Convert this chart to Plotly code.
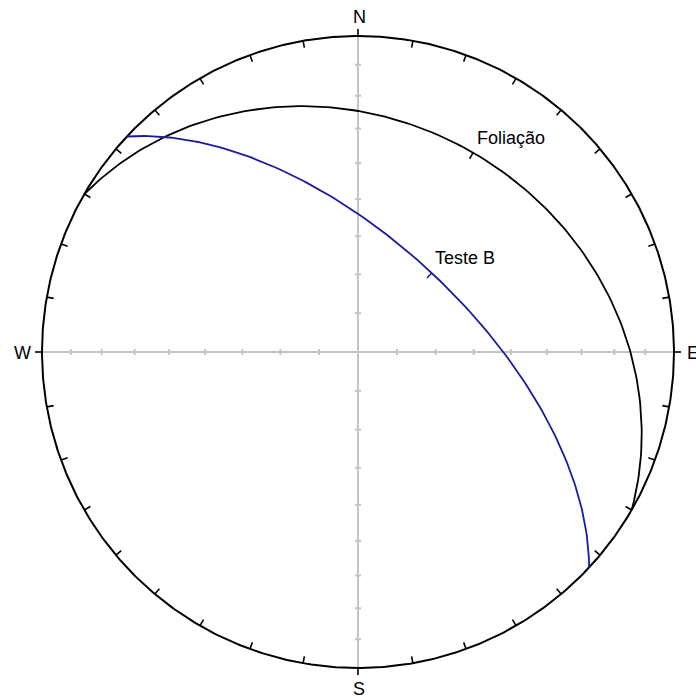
import numpy as np
import plotly.graph_objects as go

# ---- data ----
plane_names = ["Foliação", "Teste B"]
plane_dipdirs = [30, 43]       # degrees
plane_dips = [28, 62]          # degrees
plane_colors = ["#000000", "#1c1c9c"]
cardinal_labels = ["N", "E", "S", "W"]
tick_azimuths = list(range(0, 360, 10))
dip_ticks = list(range(10, 90, 10))

# ---- layout constants (pixels) ----
W, H = 696, 697
CX, CY, R = 358, 352, 316


def d(px_len):
    return px_len / R


def proj(trend, plunge):
    r = np.sqrt(2) * np.sin(np.radians(90 - plunge) / 2)
    return r * np.sin(np.radians(trend)), r * np.cos(np.radians(trend))


def great_circle(dipdir, dip, n=181):
    t = np.radians(np.linspace(0, 180, n))
    s = np.radians(dipdir - 90)
    dd = np.radians(dipdir)
    dp = np.radians(dip)
    sv = np.array([np.sin(s), np.cos(s), 0.0])
    dv = np.array([np.cos(dp) * np.sin(dd), np.cos(dp) * np.cos(dd), np.sin(dp)])
    v = np.outer(np.cos(t), sv) + np.outer(np.sin(t), dv)
    trend = np.degrees(np.arctan2(v[:, 0], v[:, 1]))
    plunge = np.degrees(np.arcsin(np.clip(v[:, 2], -1, 1)))
    return proj(trend, plunge)


fig = go.Figure()

# gray axes with dip ticks
gx, gy = [-1, 1, None, 0, 0, None], [0, 0, None, -1, 1, None]
for a in dip_ticks:
    r = np.sqrt(2) * np.sin(np.radians(a) / 2)
    for sgn in (-1, 1):
        gx += [sgn * r, sgn * r, None]
        gy += [-d(3), d(3), None]
        gx += [-d(3), d(3), None]
        gy += [sgn * r, sgn * r, None]
fig.add_trace(go.Scatter(x=gx, y=gy, mode="lines", line=dict(color="#c4c4c4", width=2),
                         hoverinfo="skip", showlegend=False))

# primitive circle
th = np.radians(np.linspace(0, 360, 721))
fig.add_trace(go.Scatter(x=np.sin(th), y=np.cos(th), mode="lines",
                         line=dict(color="#000000", width=2), hoverinfo="skip", showlegend=False))

# primitive ticks
tx, ty = [], []
for az in tick_azimuths:
    a = np.radians(az)
    if az % 90 == 0:
        r0, r1 = 1, 1 + d(7)
    else:
        r0, r1 = 1, 1 - d(7)
    tx += [r0 * np.sin(a), r1 * np.sin(a), None]
    ty += [r0 * np.cos(a), r1 * np.cos(a), None]
fig.add_trace(go.Scatter(x=tx, y=ty, mode="lines", line=dict(color="#000000", width=1.6),
                         hoverinfo="skip", showlegend=False))

# great circles and dip markers
for name, ddir, dip, col in zip(plane_names, plane_dipdirs, plane_dips, plane_colors):
    x, y = great_circle(ddir, dip)
    fig.add_trace(go.Scatter(x=x, y=y, mode="lines", line=dict(color=col, width=1.8),
                             name=name, hoverinfo="skip", showlegend=False))
    mx, my = proj(ddir, dip)
    rr = np.hypot(mx, my)
    k = (rr - d(7)) / rr
    fig.add_trace(go.Scatter(x=[mx, mx * k], y=[my, my * k], mode="lines",
                             line=dict(color=col, width=1.6), hoverinfo="skip", showlegend=False))


def px2d(px, py):
    return (px - CX) / R, (CY - py) / R


annots = []
lab_pos = {"N": (359, 17), "E": (693, 353), "S": (359, 689), "W": (22, 353)}
for lab in cardinal_labels:
    x, y = px2d(*lab_pos[lab])
    annots.append(dict(x=x, y=y, text=lab, showarrow=False, xanchor="center", yanchor="middle",
                       font=dict(family="Liberation Sans, Arial", size=18, color="#000000")))
name_pos = {"Foliação": (511, 138), "Teste B": (465, 258)}
for nm in plane_names:
    x, y = px2d(*name_pos[nm])
    annots.append(dict(x=x, y=y, text=nm, showarrow=False, xanchor="center", yanchor="middle",
                       font=dict(family="Liberation Sans, Arial", size=18, color="#000000")))

fig.update_layout(
    width=W, height=H, margin=dict(l=0, r=0, t=0, b=0),
    paper_bgcolor="white", plot_bgcolor="white",
    xaxis=dict(range=[-CX / R, (W - CX) / R], visible=False, fixedrange=True),
    yaxis=dict(range=[-(H - CY) / R, CY / R], visible=False, fixedrange=True),
    annotations=annots, showlegend=False,
)
fig.write_html("out.html", config={"displayModeBar": False},
               post_script="document.body.style.margin='0';document.body.style.overflow='hidden';")
